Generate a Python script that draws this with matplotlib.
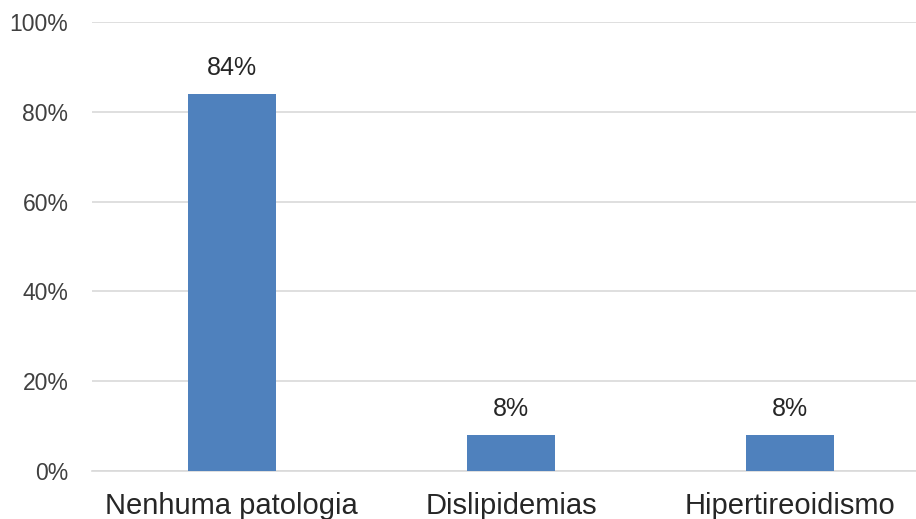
import matplotlib.pyplot as plt
from matplotlib.ticker import PercentFormatter

categorias = ['Nenhuma patologia', 'Dislipidemias', 'Hipertireoidismo']
valores = [84, 8, 8]
rotulos = ['84%', '8%', '8%']

plt.rcParams['font.family'] = ['Liberation Sans', 'DejaVu Sans']

fig = plt.figure(figsize=(9.16, 5.19), dpi=100)
# eixo: esquerda 92 px, zero em y=471, 100% em y=22
ax = fig.add_axes([92 / 916, (519 - 471) / 519, 838 / 916, 449 / 519])

x = list(range(len(categorias)))
ax.bar(x, valores, width=0.315, color='#4F81BD', zorder=3)
for xi, v, r in zip(x, valores, rotulos):
    ax.annotate(r, (xi, v), xytext=(0, 10), textcoords='offset points',
                ha='center', va='bottom', fontsize=18, color='#262626')

ax.set_xlim(-0.5, 2.5)
ax.set_ylim(0, 100)
ax.set_yticks(range(0, 101, 20))
ax.yaxis.set_major_formatter(PercentFormatter(decimals=0))
ax.set_xticks(x)
ax.set_xticklabels(categorias, fontsize=21, color='#262626')
ax.tick_params(axis='y', labelsize=16.5, colors='#404040', length=0, pad=17)
ax.tick_params(axis='x', length=0, pad=15)
ax.grid(axis='y', color='#d9d9d9', linewidth=1.2, zorder=0)
for s in ['top', 'right', 'left']:
    ax.spines[s].set_visible(False)
ax.spines['bottom'].set_color('#d9d9d9')
ax.spines['bottom'].set_linewidth(1.2)

fig.savefig('out.png', dpi=100)
